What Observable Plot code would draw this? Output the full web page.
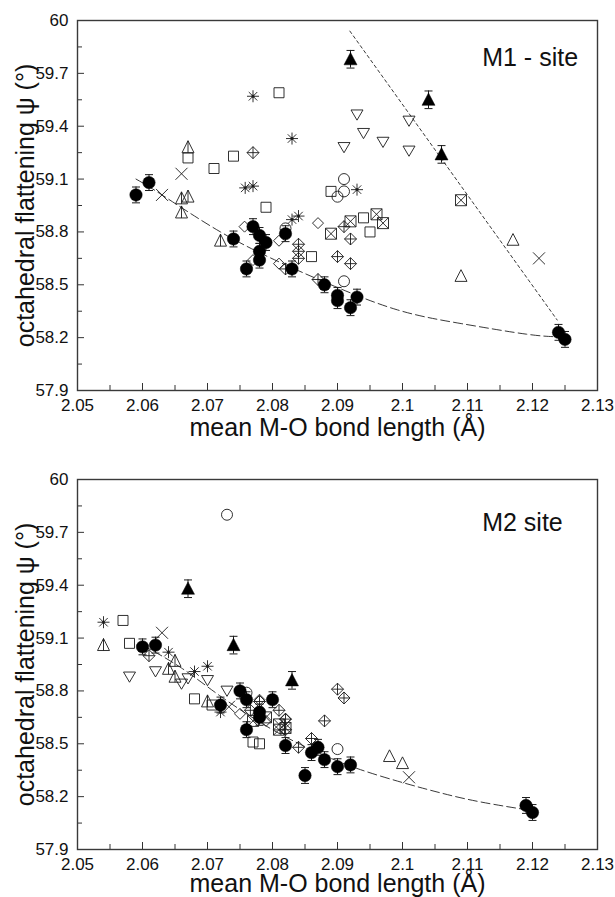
<!DOCTYPE html>
<html><head><meta charset="utf-8">
<script src="https://cdn.jsdelivr.net/npm/d3@7"></script>
<script src="https://cdn.jsdelivr.net/npm/@observablehq/plot@0.6"></script>
<style>
body{margin:0;background:#fff;}
#chart{width:615px;}
#chart svg{display:block;}
</style></head><body><div id="chart"></div>
<script>
// ---------- axes ----------
const xTicks = [2.05, 2.06, 2.07, 2.08, 2.09, 2.10, 2.11, 2.12, 2.13];
const xMinor = [2.055, 2.065, 2.075, 2.085, 2.095, 2.105, 2.115, 2.125];
const yTicks = [57.9, 58.2, 58.5, 58.8, 59.1, 59.4, 59.7, 60];
const yMinor = [58.05, 58.35, 58.65, 58.95, 59.25, 59.55, 59.85];
const xTitle = "mean M-O bond length (Å)";
const yTitle = "octahedral flattening ψ (°)";
const errCircle = 0.045, errTriangle = 0.05;

// ---------- M1 site ----------
const m1FilledCircles = [[2.059,59.01],[2.061,59.08],[2.074,58.76],[2.076,58.59],[2.077,58.83],[2.078,58.78],[2.079,58.74],[2.078,58.69],[2.078,58.64],[2.082,58.79],[2.083,58.59],[2.088,58.50],[2.090,58.44],[2.090,58.41],[2.092,58.37],[2.093,58.43],[2.124,58.23],[2.125,58.19]];
const m1FilledTriangles = [[2.092,59.78],[2.104,59.55],[2.106,59.24]];
const m1Squares = [[2.081,59.59],[2.067,59.22],[2.074,59.23],[2.071,59.16],[2.079,58.94],[2.089,59.03],[2.086,58.66],[2.094,58.88],[2.095,58.80]];
const m1Asterisks = [[2.077,59.57],[2.083,59.33],[2.0758,59.05],[2.077,59.06],[2.083,58.87],[2.084,58.89],[2.093,59.04]];
const m1Crosses = [[2.066,59.13],[2.063,59.01],[2.121,58.65]];
const m1TriLine = [[2.067,59.28],[2.066,58.99],[2.067,59.00],[2.066,58.91],[2.072,58.75]];
const m1TriUp = [[2.117,58.755],[2.109,58.55]];
const m1TriDown = [[2.093,59.465],[2.094,59.36],[2.091,59.28],[2.097,59.31],[2.101,59.43],[2.101,59.26]];
const m1DiamondPlus = [[2.077,59.25],[2.091,58.83],[2.092,58.76],[2.090,58.66],[2.092,58.62],[2.084,58.73],[2.084,58.69],[2.084,58.65],[2.082,58.59],[2.087,58.53]];
const m1Diamonds = [[2.0757,58.83],[2.087,58.85],[2.081,58.75],[2.081,58.62],[2.077,58.64]];
const m1SquareX = [[2.089,58.79],[2.092,58.86],[2.096,58.90],[2.097,58.85],[2.109,58.98]];
const m1Circles = [[2.091,59.10],[2.090,59.00],[2.091,59.03],[2.091,58.52],[2.082,58.82]];
const m1FitCurve = [[2.059,59.10],[2.063,59.01],[2.072,58.80],[2.081,58.63],[2.089,58.50],[2.099,58.36],[2.109,58.28],[2.119,58.22],[2.124,58.205]];
const m1FitLine = [[2.0919,59.94],[2.1238,58.30]];

// ---------- M2 site ----------
const m2FilledCircles = [[2.060,59.05],[2.062,59.06],[2.072,58.72],[2.075,58.80],[2.076,58.75],[2.076,58.58],[2.078,58.68],[2.078,58.65],[2.080,58.75],[2.082,58.49],[2.085,58.32],[2.086,58.45],[2.087,58.48],[2.088,58.41],[2.090,58.37],[2.092,58.38],[2.119,58.15],[2.120,58.11]];
const m2FilledTriangles = [[2.067,59.38],[2.074,59.06],[2.083,58.86]];
const m2Circles = [[2.073,59.80],[2.076,58.79],[2.090,58.47]];
const m2Asterisks = [[2.054,59.19],[2.064,59.02],[2.068,58.91],[2.070,58.94],[2.072,58.68]];
const m2Squares = [[2.057,59.20],[2.058,59.07],[2.068,58.755],[2.0707,58.72],[2.077,58.51],[2.078,58.50]];
const m2Crosses = [[2.063,59.13],[2.0733,58.71],[2.101,58.31]];
const m2TriLine = [[2.054,59.06],[2.064,58.925],[2.065,58.97],[2.065,58.88],[2.070,58.74]];
const m2TriDown = [[2.058,58.88],[2.062,58.91],[2.066,58.84],[2.067,58.87],[2.070,58.86],[2.073,58.80]];
const m2TriUp = [[2.098,58.43],[2.100,58.39]];
const m2DiamondPlus = [[2.061,59.00],[2.084,58.48],[2.086,58.53],[2.088,58.63],[2.090,58.81],[2.091,58.76],[2.081,58.69],[2.082,58.64],[2.082,58.58],[2.0766,58.69],[2.078,58.74]];
const m2Diamonds = [[2.078,58.75],[2.075,58.67],[2.079,58.63],[2.082,58.64]];
const m2SquareX = [[2.077,58.63],[2.079,58.65],[2.081,58.58],[2.082,58.59],[2.081,58.61]];
const m2FitCurve = [[2.060,59.06],[2.066,58.93],[2.072,58.77],[2.080,58.58],[2.087,58.45],[2.093,58.36],[2.100,58.28],[2.106,58.22],[2.112,58.17],[2.120,58.12]];

// ---------- symbols ----------
const S = (f) => ({draw(c, size) { const r = Math.sqrt(size / Math.PI); f(c, r); }});
const poly = (c, pts) => { c.moveTo(pts[0][0], pts[0][1]); for (let i = 1; i < pts.length; i++) c.lineTo(pts[i][0], pts[i][1]); c.closePath(); };
const seg = (c, a, b, d, e) => { c.moveTo(a, b); c.lineTo(d, e); };
const symSquare = S((c, r) => poly(c, [[-r,-r],[r,-r],[r,r],[-r,r]]));
const symSquareX = S((c, r) => { poly(c, [[-r,-r],[r,-r],[r,r],[-r,r]]); seg(c,-r,-r,r,r); seg(c,r,-r,-r,r); });
const symDiamond = S((c, r) => poly(c, [[0,-r],[r,0],[0,r],[-r,0]]));
const symDiamondPlus = S((c, r) => { poly(c, [[0,-r],[r,0],[0,r],[-r,0]]); seg(c,0,-r,0,r); seg(c,-r,0,r,0); });
const symTriUp = S((c, r) => poly(c, [[0,-1.05*r],[r,0.9*r],[-r,0.9*r]]));
const symTriLine = S((c, r) => { poly(c, [[0,-1.1*r],[r,0.9*r],[-r,0.9*r]]); seg(c,0,-1.1*r,0,0.9*r); });
const symTriDown = S((c, r) => poly(c, [[-r,-0.8*r],[r,-0.8*r],[0,0.9*r]]));
const symTriFill = S((c, r) => poly(c, [[0,-1.05*r],[r,0.85*r],[-r,0.85*r]]));
const symTimes = S((c, r) => { seg(c,-r,-r,r,r); seg(c,r,-r,-r,r); });
const symAsterisk = S((c, r) => {
  for (let k = 0; k < 4; k++) { const a = k * Math.PI / 4; seg(c, -r*Math.cos(a), -r*Math.sin(a), r*Math.cos(a), r*Math.sin(a)); }
  c.moveTo(1.2, 0); c.arc(0, 0, 1.2, 0, 2 * Math.PI);
});
const symCircle = S((c, r) => { c.moveTo(r, 0); c.arc(0, 0, r, 0, 2 * Math.PI); });
const symCap = S((c, r) => seg(c, -r, 0, r, 0));

const X = d => d[0], Y = d => d[1];
const ink = "#1a1a1a";
const open = (data, symbol, r) => Plot.dot(data, {x: X, y: Y, symbol, r, fill: "none", stroke: ink, strokeWidth: 0.9});
const errorBars = (data, err) => [
  Plot.ruleX(data, {x: X, y1: d => d[1] - err, y2: d => d[1] + err, stroke: ink, strokeWidth: 1}),
  Plot.dot(data, {x: X, y: d => d[1] - err, symbol: symCap, r: 4, stroke: ink, strokeWidth: 1}),
  Plot.dot(data, {x: X, y: d => d[1] + err, symbol: symCap, r: 4, stroke: ink, strokeWidth: 1})
];
const fmtX = d => String(+d.toFixed(2));
const fmtY = d => String(+d.toFixed(1));

function panel(cfg) {
  const plotH = 370, plotW = 615 - 77 - 18;
  return Plot.plot({
    width: 615, height: cfg.height,
    marginTop: cfg.marginTop, marginBottom: cfg.height - cfg.marginTop - plotH,
    marginLeft: 77, marginRight: 18,
    x: {domain: [2.05, 2.13]},
    y: {domain: [57.9, 60]},
    style: {fontFamily: "'Liberation Sans', Arial, Helvetica, sans-serif", background: "white", color: "#111", overflow: "visible"},
    marks: [
      Plot.tickX(xTicks, {x: d => d, insetTop: plotH - 7, stroke: "#333", strokeWidth: 1}),
      Plot.tickX(xMinor, {x: d => d, insetTop: plotH - 5, stroke: "#333", strokeWidth: 1}),
      Plot.tickY(yTicks, {y: d => d, insetRight: plotW - 7, stroke: "#333", strokeWidth: 1}),
      Plot.tickY(yMinor, {y: d => d, insetRight: plotW - 5, stroke: "#333", strokeWidth: 1}),
      Plot.axisX({ticks: xTicks, tickSize: 0, tickPadding: 8, fontSize: 17, tickFormat: fmtX, label: null}),
      Plot.axisY({ticks: yTicks, tickSize: 0, tickPadding: 9, fontSize: 17, tickFormat: fmtY, label: null}),
      Plot.text([xTitle], {text: d => d, frameAnchor: "bottom", textAnchor: "middle", lineAnchor: "middle", dy: cfg.titleDy, fontSize: 25}),
      Plot.text([yTitle], {text: d => d, frameAnchor: "left", textAnchor: "middle", lineAnchor: "middle", rotate: -90, dx: -52, fontSize: 25}),
      Plot.text([cfg.label], {text: d => d, frameAnchor: "top-right", textAnchor: "start", lineAnchor: "middle", dx: -115.3, dy: cfg.labelDy, fontSize: 25}),
      ...cfg.lines,
      ...cfg.opens,
      ...errorBars(cfg.circles, errCircle),
      ...errorBars(cfg.triangles, errTriangle),
      Plot.dot(cfg.circles, {x: X, y: Y, r: 6.2, fill: "black", stroke: "black", strokeWidth: 0.5}),
      Plot.dot(cfg.triangles, {x: X, y: Y, symbol: symTriFill, r: 6.5, fill: "black", stroke: "black", strokeWidth: 0.5}),
      Plot.frame({stroke: "#3a3a3a", strokeWidth: 1.4})
    ]
  });
}

const chart = document.getElementById("chart");
chart.appendChild(panel({
  height: 448, marginTop: 20, label: "M1 - site", labelDy: 37, titleDy: 37,
  lines: [
    Plot.line(m1FitCurve, {x: X, y: Y, curve: "natural", stroke: "#222", strokeWidth: 0.9, strokeDasharray: "9,4"}),
    Plot.line(m1FitLine, {x: X, y: Y, stroke: "#222", strokeWidth: 0.9, strokeDasharray: "3,3"})
  ],
  opens: [
    open(m1Squares, symSquare, 5), open(m1Asterisks, symAsterisk, 6), open(m1Crosses, symTimes, 6),
    open(m1TriLine, symTriLine, 6), open(m1TriUp, symTriUp, 6), open(m1TriDown, symTriDown, 6),
    open(m1DiamondPlus, symDiamondPlus, 6), open(m1Diamonds, symDiamond, 5.5), open(m1SquareX, symSquareX, 5.5),
    open(m1Circles, symCircle, 5.5)
  ],
  circles: m1FilledCircles, triangles: m1FilledTriangles
}));
chart.appendChild(panel({
  height: 449, marginTop: 31, label: "M2 site", labelDy: 43, titleDy: 34,
  lines: [
    Plot.line(m2FitCurve, {x: X, y: Y, curve: "natural", stroke: "#222", strokeWidth: 0.9, strokeDasharray: "9,4"})
  ],
  opens: [
    open(m2Squares, symSquare, 5), open(m2Asterisks, symAsterisk, 6), open(m2Crosses, symTimes, 6),
    open(m2TriLine, symTriLine, 6), open(m2TriUp, symTriUp, 6), open(m2TriDown, symTriDown, 6),
    open(m2DiamondPlus, symDiamondPlus, 6), open(m2Diamonds, symDiamond, 5.5), open(m2SquareX, symSquareX, 5.5),
    open(m2Circles, symCircle, 5.5)
  ],
  circles: m2FilledCircles, triangles: m2FilledTriangles
}));
</script>
</body></html>
